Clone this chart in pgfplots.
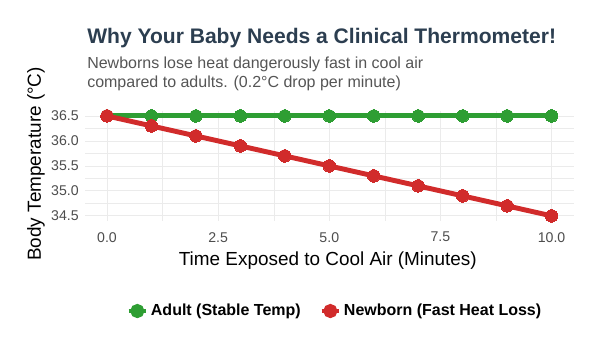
\documentclass[border=0pt]{standalone}
\usepackage{pgfplots}
\pgfplotsset{compat=1.18}
\usepackage{fontspec}
\setmainfont{Liberation Sans}
\definecolor{adultgreen}{HTML}{2E9E33}
\definecolor{babyred}{HTML}{D12B2B}
\definecolor{titlecol}{HTML}{2C3E50}
\definecolor{subcol}{HTML}{555555}
\definecolor{tickcol}{HTML}{4D4D4D}
\definecolor{gridcol}{HTML}{EBEBEB}
\begin{document}
\begin{tikzpicture}[x=1pt,y=1pt]
\path[use as bounding box] (0,0) rectangle (460,267);
\begin{axis}[
  at={(63.6pt,101.25pt)}, anchor=south west,
  scale only axis, width=367pt, height=82.5pt,
  xmin=-0.5, xmax=10.5, ymin=34.4, ymax=36.6,
  axis line style={draw=none},
  tick style={draw=none},
  xtick={0,2.5,5,7.5,10},
  minor xtick={1.25,3.75,6.25,8.75},
  ytick={34.5,35,35.5,36,36.5},
  minor ytick={34.75,35.25,35.75,36.25},
  xticklabels={0.0,2.5,5.0,7.5,10.0},
  ticklabel style={font=\fontsize{10.6}{12}\selectfont, text=tickcol},
  xticklabel style={yshift=-5pt},
  yticklabel style={xshift=-1pt, /pgf/number format/.cd,fixed,fixed zerofill,precision=1},
  /pgf/number format/assume math mode=true,
  grid=both,
  major grid style={draw=gridcol, line width=0.6pt},
  minor grid style={draw=gridcol, line width=0.3pt},
  xlabel={Time Exposed to Cool Air (Minutes)},
  ylabel={Body Temperature (°C)},
  label style={font=\fontsize{14.2}{16}\selectfont},
  xlabel style={at={(0.497,-0.364)}, anchor=center},
  ylabel style={at={(-0.0996,0.518)}, anchor=center},
  legend columns=2,
  legend style={draw=none, fill=none, at={(0.512,-0.82)}, anchor=center,
    font=\bfseries\fontsize{12}{14}\selectfont,
    /tikz/every even column/.append style={column sep=12pt}},
  legend image code/.code={
    \draw[#1, line width=3.4pt] (0pt,0pt) -- (13pt,0pt);
    \fill[#1] (6.5pt,0pt) circle (3.4pt);
  },
]
\addplot[adultgreen, line width=3.7pt, mark=*, mark size=4.7pt, mark options={fill=adultgreen, draw=adultgreen, line width=0pt}]
coordinates {(0,36.5)(1,36.5)(2,36.5)(3,36.5)(4,36.5)(5,36.5)(6,36.5)(7,36.5)(8,36.5)(9,36.5)(10,36.5)};
\addlegendentry{Adult (Stable Temp)}
\addplot[babyred, line width=3.7pt, mark=*, mark size=4.7pt, mark options={fill=babyred, draw=babyred, line width=0pt}]
coordinates {(0,36.5)(1,36.3)(2,36.1)(3,35.9)(4,35.7)(5,35.5)(6,35.3)(7,35.1)(8,34.9)(9,34.7)(10,34.5)};
\addlegendentry{Newborn (Fast Heat Loss)}
\end{axis}
\node[anchor=base west, text=titlecol, font=\bfseries\fontsize{15.8}{18}\selectfont, inner sep=0pt] at (65.3,234) {Why Your Baby Needs a Clinical Thermometer!};
\node[anchor=base west, text=subcol, font=\fontsize{12}{14}\selectfont, inner sep=0pt] at (65.3,215.5) {Newborns lose heat dangerously fast in cool air};
\node[anchor=base west, text=subcol, font=\fontsize{12}{14}\selectfont, inner sep=0pt] at (65.3,201) {compared to adults. (0.2°C drop per minute)};
\end{tikzpicture}
\end{document}
